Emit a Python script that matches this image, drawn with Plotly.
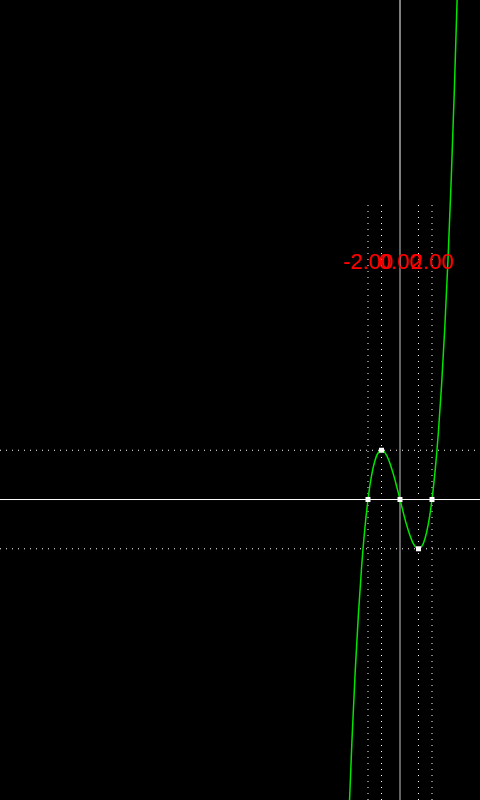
import plotly.graph_objects as go

# Curve samples (x, y)
curve_x = [-3.2, -3.0, -2.8, -2.6, -2.4, -2.2, -2.0, -1.8, -1.6, -1.4, -1.2, -1.0,
           -0.8, -0.6, -0.4, -0.2, 0.0, 0.2, 0.4, 0.6, 0.8, 1.0, 1.2, 1.4, 1.6,
           1.8, 2.0, 2.2, 2.4, 2.6, 2.8, 3.0, 3.2, 3.4, 3.6]
curve_y = [-19.97, -15.0, -10.75, -7.18, -4.22, -1.85, 0.0, 1.37, 2.30, 2.86, 3.07, 3.0,
           2.69, 2.18, 1.54, 0.79, 0.0, -0.79, -1.54, -2.18, -2.69, -3.0, -3.07, -2.86, -2.30,
           -1.37, 0.0, 1.85, 4.22, 7.18, 10.75, 15.0, 19.97, 25.70, 32.26]

# Key points: roots and extrema
key_x = [-2.0, -1.155, 0.0, 1.155, 2.0]
key_y = [0.0, 3.079, 0.0, -3.079, 0.0]

# Root labels
root_x = [-2.0, 0.0, 2.0]
root_labels = ["-2.00", "0.00", "2.00"]
label_y = 14.75

# Guides
guide_x = [-2.0, -1.155, 1.155, 2.0]
guide_y = [3.079, -3.079]
guide_top = 18.45

x_range = [-25.0, 5.0]
y_range = [-18.78, 31.22]

fig = go.Figure()

shapes = []
for gx in guide_x:
    shapes.append(dict(type="line", xref="x", yref="y", x0=gx, x1=gx,
                       y0=y_range[0], y1=guide_top,
                       line=dict(color="white", width=1, dash="1px,5px"), layer="below"))
for gy in guide_y:
    shapes.append(dict(type="line", xref="x", yref="y", x0=x_range[0], x1=x_range[1],
                       y0=gy, y1=gy,
                       line=dict(color="white", width=1, dash="1px,5px"), layer="below"))
# axes lines
shapes.append(dict(type="line", xref="x", yref="y", x0=x_range[0], x1=x_range[1], y0=0, y1=0,
                   line=dict(color="white", width=1), layer="below"))
shapes.append(dict(type="line", xref="x", yref="y", x0=0, x1=0, y0=y_range[0], y1=18.7,
                   line=dict(color="#c4c4c4", width=1), layer="below"))
shapes.append(dict(type="line", xref="x", yref="y", x0=0, x1=0, y0=18.7, y1=y_range[1],
                   line=dict(color="white", width=1), layer="below"))

fig.add_trace(go.Scatter(x=curve_x, y=curve_y, mode="lines",
                         line=dict(color="#00e600", width=1.5, shape="spline"),
                         hoverinfo="skip", showlegend=False))
fig.add_trace(go.Scatter(x=key_x, y=key_y, mode="markers",
                         marker=dict(symbol="square", size=5, color="white",
                                     line=dict(width=0)),
                         hoverinfo="skip", showlegend=False))
fig.add_trace(go.Scatter(x=root_x, y=[label_y] * len(root_x), mode="text",
                         text=root_labels, textposition="middle center",
                         textfont=dict(family="Liberation Sans, Arial, sans-serif",
                                       size=22, color="#ff0000"),
                         hoverinfo="skip", showlegend=False))

fig.update_layout(
    width=480, height=800,
    margin=dict(l=0, r=0, t=0, b=0),
    paper_bgcolor="black", plot_bgcolor="black",
    shapes=shapes,
    xaxis=dict(range=x_range, visible=False, showgrid=False, zeroline=False, fixedrange=True),
    yaxis=dict(range=y_range, visible=False, showgrid=False, zeroline=False, fixedrange=True),
    showlegend=False,
)

fig.write_html("out.html", config={"displayModeBar": False},
               post_script="document.body.style.margin='0';document.body.style.background='black';")
